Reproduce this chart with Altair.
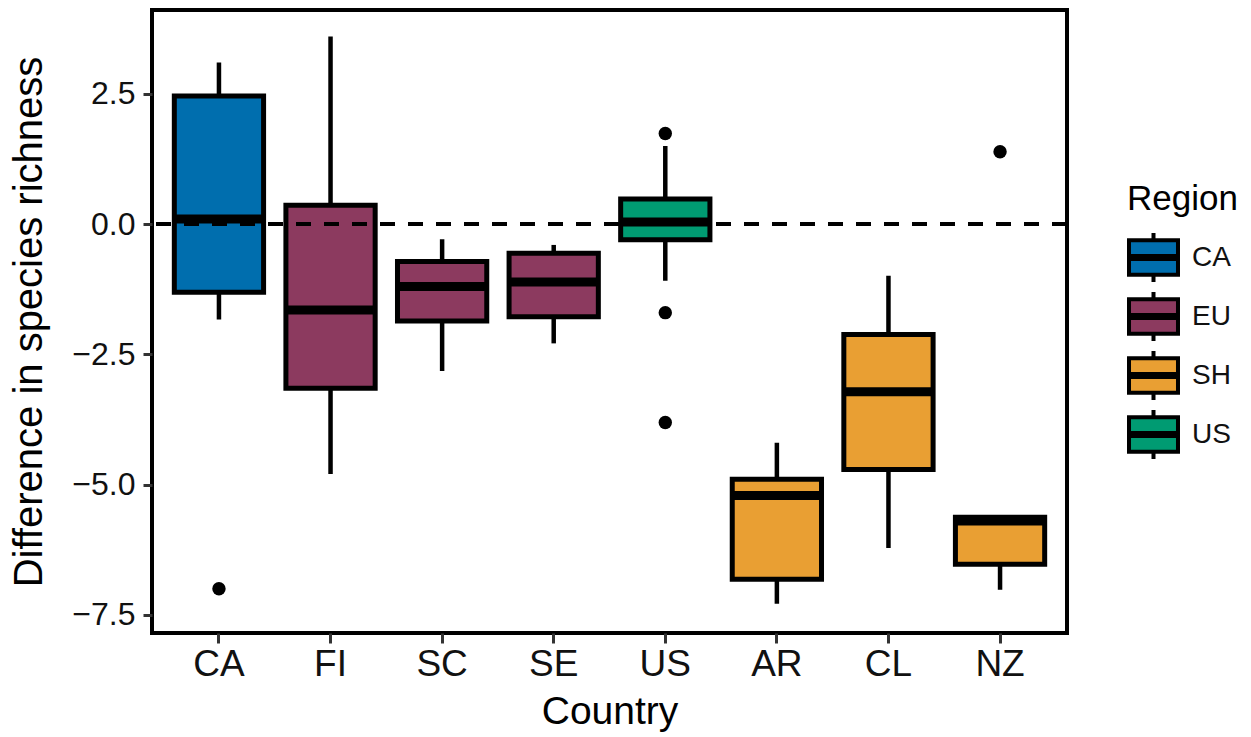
import altair as alt
import pandas as pd

# Box-plot summaries per country (whiskers, quartiles, median)
countries = ["CA", "FI", "SC", "SE", "US", "AR", "CL", "NZ"]
regions = ["CA", "EU", "EU", "EU", "US", "SH", "SH", "SH"]
whisker_low = [-1.83, -4.80, -2.82, -2.29, -1.09, -7.29, -6.22, -7.02]
q1 = [-1.31, -3.15, -1.86, -1.78, -0.30, -6.82, -4.71, -6.53]
median = [0.10, -1.65, -1.20, -1.11, 0.04, -5.21, -3.22, -5.70]
q3 = [2.46, 0.36, -0.72, -0.56, 0.48, -4.90, -2.12, -5.63]
whisker_high = [3.10, 3.60, -0.29, -0.40, 1.50, -4.20, -0.99, -5.63]

# Points beyond the whiskers
outlier_country = ["CA", "US", "US", "US", "NZ"]
outlier_value = [-7.00, 1.74, -1.70, -3.81, 1.39]

region_order = ["CA", "EU", "SH", "US"]
region_colors = ["#006EAE", "#8C3A5F", "#E99F33", "#009B72"]

FONT = "Liberation Sans"

stats = pd.DataFrame({
    "Country": countries,
    "Region": regions,
    "whisker_low": whisker_low,
    "q1": q1,
    "median": median,
    "q3": q3,
    "whisker_high": whisker_high,
})
outliers_df = pd.DataFrame({"Country": outlier_country, "value": outlier_value})
zero_df = pd.DataFrame({"y": [0.0]})

x_scale = alt.Scale(domain=countries, paddingInner=0, paddingOuter=0.1)
y_scale = alt.Scale(domain=[-7.85, 4.11], nice=False, zero=False)

x_enc = alt.X(
    "Country:N",
    scale=x_scale,
    sort=countries,
    axis=alt.Axis(
        title="Country",
        labelAngle=0,
        labelFontSize=37,
        labelColor="#111111",
        labelPadding=3,
        tickSize=10,
        tickWidth=3,
        tickColor="#333333",
        domain=False,
        grid=False,
        titleFontSize=39,
        titleFontWeight="normal",
        titleColor="black",
        titlePadding=10,
    ),
)
y_axis = alt.Axis(
    title="Difference in species richness",
    values=[-7.5, -5.0, -2.5, 0.0, 2.5],
    format=".1f",
    labelFontSize=32,
    labelColor="#111111",
    labelPadding=8,
    tickSize=9,
    tickWidth=3,
    tickColor="#333333",
    domain=False,
    grid=False,
    titleFontSize=40,
    titleFontWeight="normal",
    titleColor="black",
    titlePadding=22,
)

# legend glyph: box with whiskers and a thick median band
glyph = (
    "M-1,-0.7 L1,-0.7 L1,0.7 L-1,0.7 Z "
    "M0,-1 L0,-0.7 M0,0.7 L0,1 "
    "M-1,-0.06 L1,-0.06 M-1,0.06 L1,0.06"
)

base = alt.Chart(stats).encode(x=x_enc)

whiskers = base.mark_rule(color="black", strokeWidth=4.5).encode(
    y=alt.Y("whisker_low:Q", scale=y_scale, axis=y_axis),
    y2="whisker_high:Q",
)

boxes = base.mark_bar(
    stroke="black", strokeWidth=5, opacity=1, width={"band": 0.8}
).encode(
    y=alt.Y("q1:Q", scale=y_scale),
    y2="q3:Q",
    fill=alt.Fill(
        "Region:N",
        scale=alt.Scale(domain=region_order, range=region_colors),
        legend=alt.Legend(
            title="Region",
            orient="none",
            legendX=975,
            legendY=172,
            titleFontSize=35,
            titleFontWeight="normal",
            titleColor="black",
            titlePadding=14,
            labelFontSize=28,
            labelColor="#111111",
            labelOffset=12,
            symbolType=glyph,
            symbolSize=2400,
            symbolStrokeColor="black",
            symbolStrokeWidth=4,
            rowPadding=-11,
            padding=0,
        ),
    ),
)

medians = base.mark_tick(color="black", thickness=9, size=89, opacity=1).encode(
    y=alt.Y("median:Q", scale=y_scale)
)

outliers = alt.Chart(outliers_df).mark_point(
    filled=True, color="black", size=180, opacity=1
).encode(
    x=alt.X("Country:N", scale=x_scale, sort=countries),
    y=alt.Y("value:Q", scale=y_scale),
)

zero_line = alt.Chart(zero_df).mark_rule(
    color="black", strokeWidth=4, strokeDash=[15, 13]
).encode(y=alt.Y("y:Q", scale=y_scale))

chart = (
    alt.layer(whiskers, boxes, medians, outliers, zero_line)
    .properties(
        width=915,
        height=623,
        padding={"left": 152, "top": 10, "right": 184, "bottom": 104},
        autosize=alt.AutoSizeParams(type="none"),
    )
    .configure(font=FONT)
    .configure_view(stroke="black", strokeWidth=4)
)

chart.save("out.html", embed_options={"renderer": "svg", "actions": False})
